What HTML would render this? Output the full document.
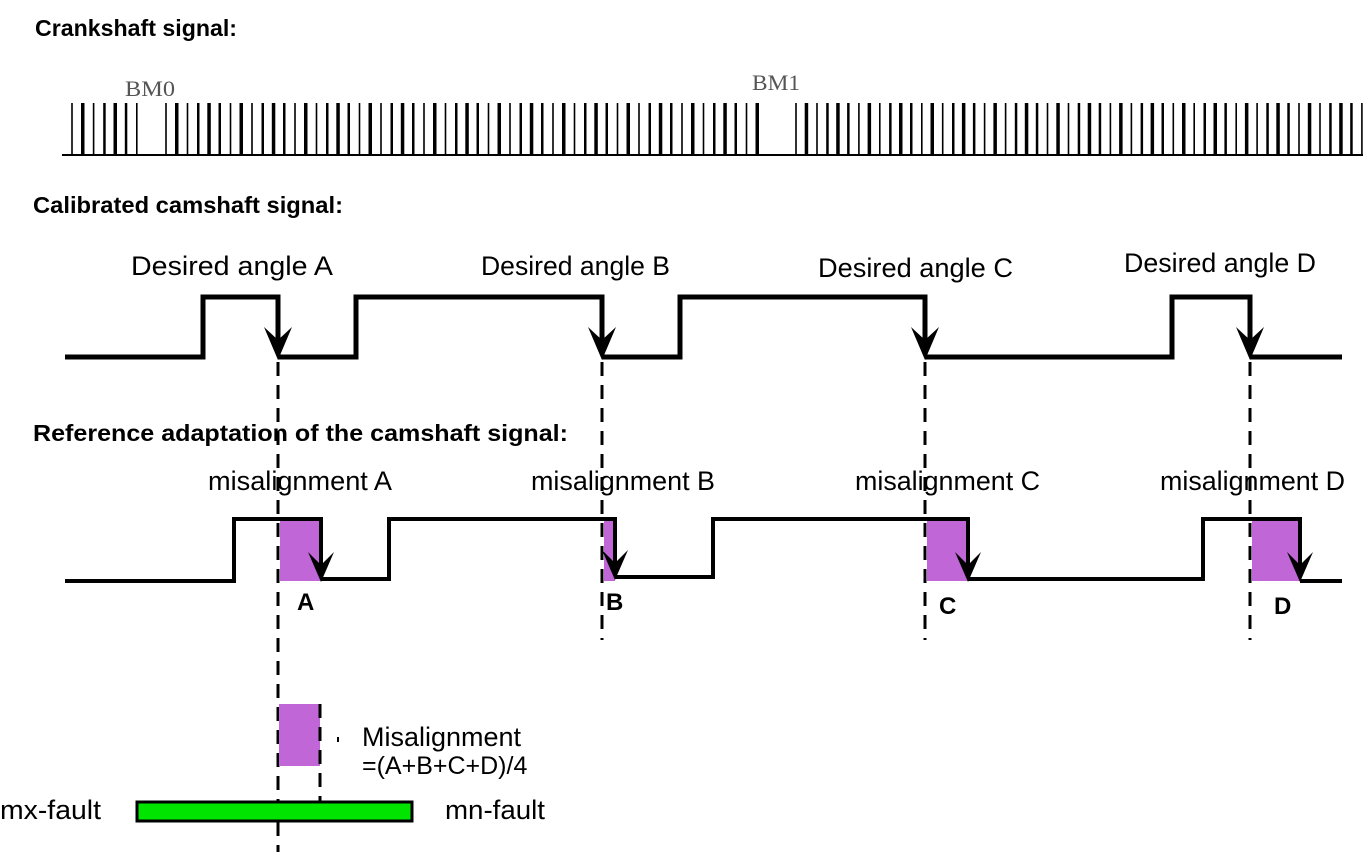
<!DOCTYPE html>
<html><head><meta charset="utf-8">
<style>
body{margin:0;background:#fff;width:1370px;height:852px;overflow:hidden}
svg{display:block}
.t{font-family:"Liberation Sans",sans-serif;font-weight:bold;font-size:23px}
.l{font-family:"Liberation Sans",sans-serif;font-size:27px}
.s{font-family:"Liberation Serif",serif;font-size:22px;fill:#555}
.b{font-family:"Liberation Sans",sans-serif;font-weight:bold;font-size:24px}
</style></head><body>
<svg id="s" width="1370" height="852" viewBox="0 0 1370 852" xmlns="http://www.w3.org/2000/svg">
<text class="t" x="35" y="36" textLength="202" lengthAdjust="spacingAndGlyphs">Crankshaft signal:</text>
<text class="s" x="125" y="96" textLength="50" lengthAdjust="spacingAndGlyphs">BM0</text>
<text class="s" x="752" y="90" textLength="48" lengthAdjust="spacingAndGlyphs">BM1</text>
<line x1="62" y1="155" x2="1363" y2="155" stroke="#000" stroke-width="2"/>
<g id="teeth"></g>
<text class="t" x="33" y="213" textLength="310" lengthAdjust="spacingAndGlyphs">Calibrated camshaft signal:</text>
<text class="l" x="131" y="275" textLength="202" lengthAdjust="spacingAndGlyphs">Desired angle A</text>
<text class="l" x="481" y="275" textLength="189" lengthAdjust="spacingAndGlyphs">Desired angle B</text>
<text class="l" x="818" y="277" textLength="195" lengthAdjust="spacingAndGlyphs">Desired angle C</text>
<text class="l" x="1124" y="272" textLength="192" lengthAdjust="spacingAndGlyphs">Desired angle D</text>
<polyline fill="none" stroke="#000" stroke-width="5" points="65,357 203,357 203,297 278,297 278,345"/>
<polyline fill="none" stroke="#000" stroke-width="5" points="278,357 356,357 356,297 602,297 602,345"/>
<polyline fill="none" stroke="#000" stroke-width="5" points="602,357 680,357 680,297 925,297 925,345"/>
<polyline fill="none" stroke="#000" stroke-width="5" points="925,357 1172,357 1172,297 1250,297 1250,345"/>
<line x1="1250" y1="357" x2="1342" y2="357" stroke="#000" stroke-width="5"/>
<g fill="#000">
<polygon points="278,360 264,327 278,340 292,327"/>
<polygon points="602,360 588,327 602,340 616,327"/>
<polygon points="925,360 911,327 925,340 939,327"/>
<polygon points="1250,360 1236,327 1250,340 1264,327"/>
</g>
<g stroke="#000" stroke-width="3" stroke-dasharray="14,9">
<line x1="278" y1="362" x2="278" y2="852"/>
<line x1="602" y1="362" x2="602" y2="640"/>
<line x1="925" y1="362" x2="925" y2="640"/>
<line x1="1250" y1="362" x2="1250" y2="640"/>
</g>
<text class="t" x="33" y="441" textLength="535" lengthAdjust="spacingAndGlyphs">Reference adaptation of the camshaft signal:</text>
<text class="l" x="208" y="490" textLength="184" lengthAdjust="spacingAndGlyphs">misalignment A</text>
<text class="l" x="531" y="490" textLength="184" lengthAdjust="spacingAndGlyphs">misalignment B</text>
<text class="l" x="855" y="490" textLength="185" lengthAdjust="spacingAndGlyphs">misalignment C</text>
<text class="l" x="1160" y="490" textLength="185" lengthAdjust="spacingAndGlyphs">misalignment D</text>
<g fill="#c066d6">
<polygon points="280,521 321,521 321,581 280,581"/>
<polygon points="604,521 615,521 615,581 604,581"/>
<polygon points="927,521 968,521 968,581 927,581"/>
<polygon points="1252,521 1300,521 1300,581 1252,581"/>
<rect x="279" y="704" width="41" height="62"/>
</g>
<g fill="none" stroke="#000" stroke-width="4">
<polyline points="65,581 234,581 234,519 321,519 321,570"/>
<polyline points="321,579 389,579 389,519 615,519 615,568"/>
<polyline points="615,577 713,577 713,519 968,519 968,570"/>
<polyline points="968,579 1203,579 1203,519 1300,519 1300,570"/>
<line x1="1300" y1="581" x2="1342" y2="581"/>
</g>
<g fill="#000">
<polygon points="321,582 308,552 321,565 334,552"/>
<polygon points="615,580 602,550 615,563 628,550"/>
<polygon points="968,582 955,552 968,565 981,552"/>
<polygon points="1300,582 1287,552 1300,565 1313,552"/>
</g>
<text class="b" x="297" y="610">A</text>
<text class="b" x="606" y="610">B</text>
<text class="b" x="939" y="614">C</text>
<text class="b" x="1274" y="614">D</text>
<line x1="320" y1="704" x2="320" y2="802" stroke="#000" stroke-width="3" stroke-dasharray="14,9"/>
<line x1="338" y1="737" x2="338" y2="742" stroke="#000" stroke-width="2"/>
<text class="l" x="362" y="746" textLength="159" lengthAdjust="spacingAndGlyphs">Misalignment</text>
<text class="l" x="362" y="774" style="font-size:25px">=(A+B+C+D)/4</text>
<rect x="137" y="802" width="275" height="19" fill="#00e400" stroke="#000" stroke-width="3"/>
<text class="l" x="0" y="819" textLength="101" lengthAdjust="spacingAndGlyphs">mx-fault</text>
<text class="l" x="445" y="819" textLength="100" lengthAdjust="spacingAndGlyphs">mn-fault</text>
</svg>
<script>
var g=document.getElementById('teeth'),h='';
function seg(a,n,p){for(var i=0;i<n;i++){var x=a+i*p,ww=(i%3==1)?3.5:(i%2?2.5:1.6);h+='<rect x="'+(x-ww/2).toFixed(1)+'" y="103" width="'+ww+'" height="52" fill="#000"/>';}}
seg(72,7,10.8);seg(166,56,10.75);seg(796,55,10.48);
g.innerHTML=h;
</script>
</body></html>
